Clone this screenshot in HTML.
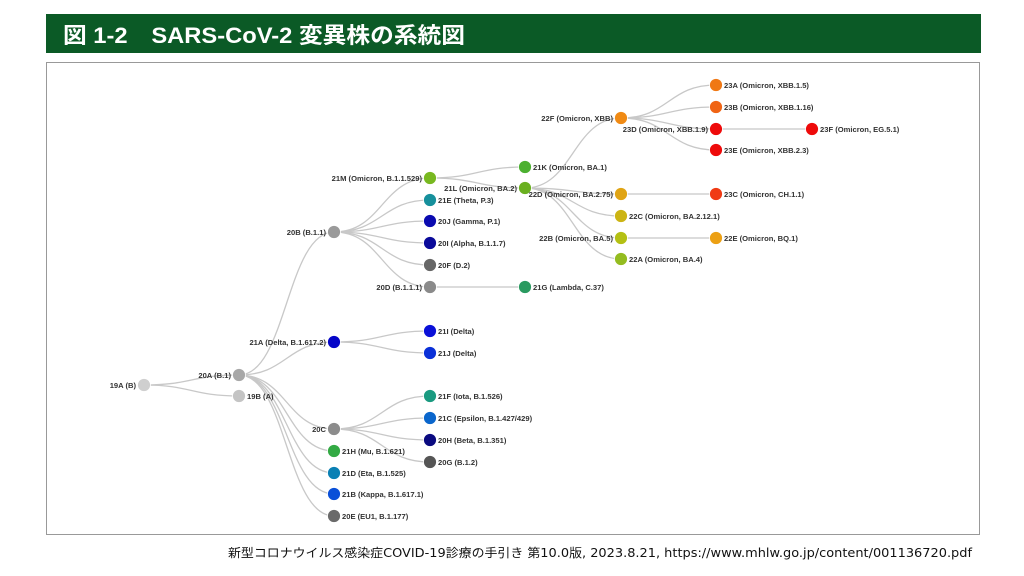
<!DOCTYPE html>
<html><head><meta charset="utf-8"><style>
html,body{margin:0;padding:0;background:#fff;width:1024px;height:576px;overflow:hidden}
svg{position:absolute;left:0;top:0}
.l{font-family:"Liberation Sans",sans-serif;font-weight:bold;font-size:7.6px;fill:#333}
.e{fill:none;stroke:#c8c8c8;stroke-width:1.3}
</style></head><body>
<svg width="1024" height="576" xmlns="http://www.w3.org/2000/svg">
<rect x="46" y="14" width="935" height="39" fill="#0b5a26"/>
<text x="63" y="43" textLength="402" lengthAdjust="spacingAndGlyphs" font-family="'Liberation Sans','Noto Sans CJK JP',sans-serif" font-weight="bold" font-size="22" fill="#fff">図 1-2　SARS-CoV-2 変異株の系統図</text>
<rect x="46.5" y="62.5" width="933" height="472" fill="#fff" stroke="#999" stroke-width="1"/>
<text x="228" y="557" textLength="744" lengthAdjust="spacingAndGlyphs" font-family="'DejaVu Sans','Noto Sans CJK JP',sans-serif" font-size="12" fill="#111">新型コロナウイルス感染症COVID-19診療の手引き 第10.0版, 2023.8.21, https://www.mhlw.go.jp/content/001136720.pdf</text>
<g class="e">
<path d="M144 385C191.5 385 191.5 375 239 375"/>
<path d="M144 385C191.5 385 191.5 396 239 396"/>
<path d="M239 375C286.5 375 286.5 232 334 232"/>
<path d="M239 375C286.5 375 286.5 342 334 342"/>
<path d="M239 375C286.5 375 286.5 429 334 429"/>
<path d="M239 375C286.5 375 286.5 451 334 451"/>
<path d="M239 375C286.5 375 286.5 473 334 473"/>
<path d="M239 375C286.5 375 286.5 494 334 494"/>
<path d="M239 375C286.5 375 286.5 516 334 516"/>
<path d="M334 342C382 342 382 331 430 331"/>
<path d="M334 342C382 342 382 353 430 353"/>
<path d="M334 429C382 429 382 396 430 396"/>
<path d="M334 429C382 429 382 418 430 418"/>
<path d="M334 429C382 429 382 440 430 440"/>
<path d="M334 429C382 429 382 462 430 462"/>
<path d="M334 232C382 232 382 178 430 178"/>
<path d="M334 232C382 232 382 200 430 200"/>
<path d="M334 232C382 232 382 221 430 221"/>
<path d="M334 232C382 232 382 243 430 243"/>
<path d="M334 232C382 232 382 265 430 265"/>
<path d="M334 232C382 232 382 287 430 287"/>
<path d="M430 287L525 287"/>
<path d="M430 178C477.5 178 477.5 167 525 167"/>
<path d="M430 178C477.5 178 477.5 188 525 188"/>
<path d="M525 188C573 188 573 118 621 118"/>
<path d="M525 188C573 188 573 194 621 194"/>
<path d="M525 188C573 188 573 216 621 216"/>
<path d="M525 188C573 188 573 238 621 238"/>
<path d="M525 188C573 188 573 259 621 259"/>
<path d="M621 118C668.5 118 668.5 85 716 85"/>
<path d="M621 118C668.5 118 668.5 107 716 107"/>
<path d="M621 118C668.5 118 668.5 129 716 129"/>
<path d="M621 118C668.5 118 668.5 150 716 150"/>
<path d="M716 129L812 129"/>
<path d="M621 194L716 194"/>
<path d="M621 238L716 238"/>
</g>
<g stroke="#fff" stroke-width="0.8">
<circle cx="144" cy="385" r="6.5" fill="#cfcfcf"/>
<circle cx="239" cy="375" r="6.5" fill="#a8a8a8"/>
<circle cx="239" cy="396" r="6.5" fill="#c4c4c4"/>
<circle cx="334" cy="342" r="6.5" fill="#0505c8"/>
<circle cx="430" cy="331" r="6.5" fill="#0a10d8"/>
<circle cx="430" cy="353" r="6.5" fill="#0a30d8"/>
<circle cx="334" cy="429" r="6.5" fill="#8c8c8c"/>
<circle cx="430" cy="396" r="6.5" fill="#1a9a80"/>
<circle cx="430" cy="418" r="6.5" fill="#0a66cc"/>
<circle cx="430" cy="440" r="6.5" fill="#0a0a80"/>
<circle cx="430" cy="462" r="6.5" fill="#555"/>
<circle cx="334" cy="451" r="6.5" fill="#33aa44"/>
<circle cx="334" cy="473" r="6.5" fill="#0a80b4"/>
<circle cx="334" cy="494" r="6.5" fill="#0a50d8"/>
<circle cx="334" cy="516" r="6.5" fill="#6a6a6a"/>
<circle cx="334" cy="232" r="6.5" fill="#9a9a9a"/>
<circle cx="430" cy="178" r="6.5" fill="#78b820"/>
<circle cx="430" cy="200" r="6.5" fill="#16909c"/>
<circle cx="430" cy="221" r="6.5" fill="#0a0ab0"/>
<circle cx="430" cy="243" r="6.5" fill="#0a0a9a"/>
<circle cx="430" cy="265" r="6.5" fill="#666"/>
<circle cx="430" cy="287" r="6.5" fill="#8a8a8a"/>
<circle cx="525" cy="287" r="6.5" fill="#2a9a60"/>
<circle cx="525" cy="167" r="6.5" fill="#4cb030"/>
<circle cx="525" cy="188" r="6.5" fill="#6ab020"/>
<circle cx="621" cy="118" r="6.5" fill="#f08a14"/>
<circle cx="716" cy="85" r="6.5" fill="#f07814"/>
<circle cx="716" cy="107" r="6.5" fill="#f06414"/>
<circle cx="716" cy="129" r="6.5" fill="#ee0a0a"/>
<circle cx="716" cy="150" r="6.5" fill="#ee0a0a"/>
<circle cx="812" cy="129" r="6.5" fill="#ee0a0a"/>
<circle cx="621" cy="194" r="6.5" fill="#e0a414"/>
<circle cx="716" cy="194" r="6.5" fill="#f03a14"/>
<circle cx="621" cy="216" r="6.5" fill="#ccb414"/>
<circle cx="621" cy="238" r="6.5" fill="#b4c014"/>
<circle cx="716" cy="238" r="6.5" fill="#eca014"/>
<circle cx="621" cy="259" r="6.5" fill="#94bc20"/>
</g>
<g class="l">
<text x="136" y="388" text-anchor="end">19A (B)</text>
<text x="231" y="378" text-anchor="end">20A (B.1)</text>
<text x="247" y="399">19B (A)</text>
<text x="326" y="345" text-anchor="end">21A (Delta, B.1.617.2)</text>
<text x="438" y="334">21I (Delta)</text>
<text x="438" y="356">21J (Delta)</text>
<text x="326" y="432" text-anchor="end">20C</text>
<text x="438" y="399">21F (Iota, B.1.526)</text>
<text x="438" y="421">21C (Epsilon, B.1.427/429)</text>
<text x="438" y="443">20H (Beta, B.1.351)</text>
<text x="438" y="465">20G (B.1.2)</text>
<text x="342" y="454">21H (Mu, B.1.621)</text>
<text x="342" y="476">21D (Eta, B.1.525)</text>
<text x="342" y="497">21B (Kappa, B.1.617.1)</text>
<text x="342" y="519">20E (EU1, B.1.177)</text>
<text x="326" y="235" text-anchor="end">20B (B.1.1)</text>
<text x="422" y="181" text-anchor="end">21M (Omicron, B.1.1.529)</text>
<text x="438" y="203">21E (Theta, P.3)</text>
<text x="438" y="224">20J (Gamma, P.1)</text>
<text x="438" y="246">20I (Alpha, B.1.1.7)</text>
<text x="438" y="268">20F (D.2)</text>
<text x="422" y="290" text-anchor="end">20D (B.1.1.1)</text>
<text x="533" y="290">21G (Lambda, C.37)</text>
<text x="533" y="170">21K (Omicron, BA.1)</text>
<text x="517" y="191" text-anchor="end">21L (Omicron, BA.2)</text>
<text x="613" y="121" text-anchor="end">22F (Omicron, XBB)</text>
<text x="724" y="88">23A (Omicron, XBB.1.5)</text>
<text x="724" y="110">23B (Omicron, XBB.1.16)</text>
<text x="708" y="132" text-anchor="end">23D (Omicron, XBB.1.9)</text>
<text x="724" y="153">23E (Omicron, XBB.2.3)</text>
<text x="820" y="132">23F (Omicron, EG.5.1)</text>
<text x="613" y="197" text-anchor="end">22D (Omicron, BA.2.75)</text>
<text x="724" y="197">23C (Omicron, CH.1.1)</text>
<text x="629" y="219">22C (Omicron, BA.2.12.1)</text>
<text x="613" y="241" text-anchor="end">22B (Omicron, BA.5)</text>
<text x="724" y="241">22E (Omicron, BQ.1)</text>
<text x="629" y="262">22A (Omicron, BA.4)</text>
</g>
</svg>
</body></html>
